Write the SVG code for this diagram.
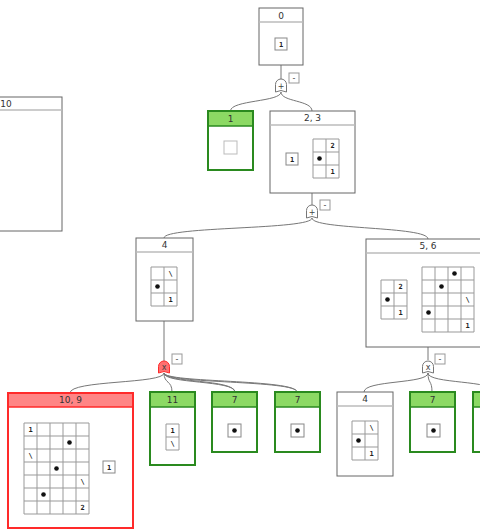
<svg xmlns="http://www.w3.org/2000/svg" width="480" height="529" viewBox="0 0 480 529">
  <style>
    .box { fill: #fff; stroke: #666; stroke-width: 1; }
    .box-ok { fill: none; stroke: #2a8a1f; stroke-width: 2; }
    .box-bad { fill: none; stroke: #ff2a2a; stroke-width: 2; }
    .hd-ok { fill: #8cd964; }
    .hd-bad { fill: #ff8585; }
    .sep { stroke: #bbb; stroke-width: 1.5; }
    .sep-ok { stroke: #2a8a1f; stroke-width: 1.5; }
    .sep-bad { stroke: #ff2a2a; stroke-width: 1.5; }
    .title { font-family: "DejaVu Sans", sans-serif; font-size: 9px; fill: #333; text-anchor: middle; }
    .cell { fill: #fff; stroke: #999; stroke-width: 1; }
    .tag { fill: #fff; stroke: #888; stroke-width: 1; }
    .num { font-family: "DejaVu Sans Mono", monospace; font-size: 7px; font-weight: bold; fill: #222; text-anchor: middle; }
    .dot { fill: #111; }
    .link { fill: none; stroke: #777; stroke-width: 1; }
    .gate { fill: #fff; stroke: #777; stroke-width: 1; }
    .gate-bad { fill: #ff6f6f; stroke: #ff2a2a; stroke-width: 1; }
    .gsym { font-family: "DejaVu Sans", sans-serif; font-size: 8px; fill: #444; text-anchor: middle; }
    .minus { fill: #fff; stroke: #999; stroke-width: 1; }
    .msym { font-family: "DejaVu Sans", sans-serif; font-size: 8px; fill: #444; text-anchor: middle; }
  </style>

  <!-- connectors -->
  <g id="connectors">
    <path class="link" d="M281,65 L281,79"/>
    <path class="link" d="M281,92 C281,102 230.5,100 230.5,111"/>
    <path class="link" d="M281,92 C281,102 312,100 312,111"/>
    <path class="link" d="M312,193 L312,205"/>
    <path class="link" d="M312,218 C312,230 164,226 164,238"/>
    <path class="link" d="M312,218 C312,230 428,226 428,239"/>
    <path class="link" d="M164,321 L164,361"/>
    <path class="link" d="M164,373 C164,384 70,380 70,393"/>
    <path class="link" d="M164,373 C164,384 172,380 172,392"/>
    <path class="link" d="M164,373 C164,384 235,380 235,392"/>
    <path class="link" d="M164,373 C165,383 234,379 235,392"/>
    <path class="link" d="M164,373 C164,384 297,380 297,392"/>
    <path class="link" d="M164,373 C165,383 296,379 297,392"/>
    <path class="link" d="M428,347 L428,360"/>
    <path class="link" d="M428,373 C428,384 364,380 364,392"/>
    <path class="link" d="M428,373 C428,384 432,380 432,392"/>
    <path class="link" d="M428,373 C428,384 495,380 495,392"/>
  </g>

  <!-- gates -->
  <g id="gate-a">
    <path class="gate" d="M275.5,92 L275.5,84.5 A5.5,5.5 0 0 1 286.5,84.5 L286.5,92 Q281,89 275.5,92 Z"/>
    <text class="gsym" x="281" y="88.5">+</text>
    <rect class="minus" x="289" y="73" width="10" height="10"/>
    <text class="msym" x="294" y="80.5">-</text>
  </g>
  <g id="gate-b">
    <path class="gate" d="M306.5,218 L306.5,210.5 A5.5,5.5 0 0 1 317.5,210.5 L317.5,218 Q312,215 306.5,218 Z"/>
    <text class="gsym" x="312" y="214.5">+</text>
    <rect class="minus" x="320" y="200" width="10" height="10"/>
    <text class="msym" x="325" y="207.5">-</text>
  </g>
  <g id="gate-c">
    <path class="gate-bad" d="M158.5,373 L158.5,366.5 A5.5,5.5 0 0 1 169.5,366.5 L169.5,373 Q164,370 158.5,373 Z"/>
    <text class="gsym" x="164" y="370" font-size="7">x</text>
    <rect class="minus" x="172" y="354" width="10" height="10"/>
    <text class="msym" x="177" y="361.5">-</text>
  </g>
  <g id="gate-d">
    <path class="gate" d="M422.5,373 L422.5,366.5 A5.5,5.5 0 0 1 433.5,366.5 L433.5,373 Q428,370 422.5,373 Z"/>
    <text class="gsym" x="428" y="370" font-size="7">x</text>
    <rect class="minus" x="435" y="354" width="10" height="10"/>
    <text class="msym" x="440" y="361.5">-</text>
  </g>

  <!-- node 0 -->
  <g id="node-0">
    <rect class="box" x="259" y="8" width="44" height="57"/>
    <line class="sep" x1="259" y1="22" x2="303" y2="22"/>
    <text class="title" x="281" y="18.5">0</text>
    <rect class="tag" x="275" y="38" width="12" height="12"/>
    <text class="num" x="281" y="46.5">1</text>
  </g>

  <!-- node 10 -->
  <g id="node-10">
    <rect class="box" x="-54" y="97" width="116" height="134"/>
    <line class="sep" x1="-54" y1="110" x2="62" y2="110"/>
    <text class="title" x="6" y="106.5">10</text>
  </g>

  <!-- node 1 -->
  <g id="node-1">
    <rect class="hd-ok" x="208" y="111" width="45" height="15"/>
    <rect class="box-ok" x="208" y="111" width="45" height="59"/>
    <line class="sep-ok" x1="208" y1="126" x2="253" y2="126"/>
    <text class="title" x="230.5" y="121.5">1</text>
    <rect x="224" y="141" width="13" height="13" fill="#fff" stroke="#bbb"/>
  </g>

  <!-- node 2, 3 -->
  <g id="node-2-3">
    <rect class="box" x="270" y="111" width="85" height="82"/>
    <line class="sep" x1="270" y1="125" x2="355" y2="125"/>
    <text class="title" x="312.5" y="121">2, 3</text>
    <rect class="tag" x="286" y="153" width="12" height="12"/>
    <text class="num" x="292" y="161.5">1</text>
    <g transform="translate(313,139)">
      <path fill="#fff" stroke="#999" d="M0,0 H26 V39 H0 Z M13,0 V39 M0,13 H26 M0,26 H26"/>
      <text class="num" x="19.5" y="9">2</text>
      <circle class="dot" cx="6.5" cy="19.5" r="2.3"/>
      <text class="num" x="19.5" y="35">1</text>
    </g>
  </g>

  <!-- node 4 -->
  <g id="node-4">
    <rect class="box" x="136" y="238" width="57" height="83"/>
    <line class="sep" x1="136" y1="252" x2="193" y2="252"/>
    <text class="title" x="164.5" y="248">4</text>
    <g transform="translate(151,267)">
      <path fill="#fff" stroke="#999" d="M0,0 H26 V39 H0 Z M13,0 V39 M0,13 H26 M0,26 H26"/>
      <text class="num" x="19.5" y="9">\</text>
      <circle class="dot" cx="6.5" cy="19.5" r="2.3"/>
      <text class="num" x="19.5" y="35">1</text>
    </g>
  </g>

  <!-- node 5, 6 -->
  <g id="node-5-6">
    <rect class="box" x="366" y="239" width="124" height="108"/>
    <line class="sep" x1="366" y1="253" x2="490" y2="253"/>
    <text class="title" x="428" y="249">5, 6</text>
    <g transform="translate(381,280)">
      <path fill="#fff" stroke="#999" d="M0,0 H26 V39 H0 Z M13,0 V39 M0,13 H26 M0,26 H26"/>
      <text class="num" x="19.5" y="9">2</text>
      <circle class="dot" cx="6.5" cy="19.5" r="2.3"/>
      <text class="num" x="19.5" y="35">1</text>
    </g>
    <g transform="translate(422,267)">
      <path fill="#fff" stroke="#999" d="M0,0 H52 V65 H0 Z M13,0 V65 M26,0 V65 M39,0 V65 M0,13 H52 M0,26 H52 M0,39 H52 M0,52 H52"/>
      <circle class="dot" cx="32.5" cy="6.5" r="2.3"/>
      <circle class="dot" cx="19.5" cy="19.5" r="2.3"/>
      <text class="num" x="45.5" y="35">\</text>
      <circle class="dot" cx="6.5" cy="45.5" r="2.3"/>
      <text class="num" x="45.5" y="61">1</text>
    </g>
  </g>

  <!-- node 10, 9 -->
  <g id="node-10-9">
    <rect class="hd-bad" x="8" y="393" width="125" height="14"/>
    <rect class="box-bad" x="8" y="393" width="125" height="135"/>
    <line class="sep-bad" x1="8" y1="407" x2="133" y2="407"/>
    <text class="title" x="70.5" y="403">10, 9</text>
    <g transform="translate(24,423)">
      <path fill="#fff" stroke="#999" d="M0,0 H65 V91 H0 Z M13,0 V91 M26,0 V91 M39,0 V91 M52,0 V91 M0,13 H65 M0,26 H65 M0,39 H65 M0,52 H65 M0,65 H65 M0,78 H65"/>
      <text class="num" x="6.5" y="9">1</text>
      <circle class="dot" cx="45.5" cy="19.5" r="2.3"/>
      <text class="num" x="6.5" y="35">\</text>
      <circle class="dot" cx="32.5" cy="45.5" r="2.3"/>
      <text class="num" x="58.5" y="61">\</text>
      <circle class="dot" cx="19.5" cy="71.5" r="2.3"/>
      <text class="num" x="58.5" y="87">2</text>
    </g>
    <rect class="tag" x="103" y="461" width="12" height="12"/>
    <text class="num" x="109" y="469.5">1</text>
  </g>

  <!-- node 11 -->
  <g id="node-11">
    <rect class="hd-ok" x="150" y="392" width="45" height="15"/>
    <rect class="box-ok" x="150" y="392" width="45" height="73"/>
    <line class="sep-ok" x1="150" y1="407" x2="195" y2="407"/>
    <text class="title" x="172.5" y="402.5">11</text>
    <path fill="#fff" stroke="#999" d="M166,424 H179 V450 H166 Z M166,437 H179"/>
    <text class="num" x="172.5" y="433">1</text>
    <text class="num" x="172.5" y="446">\</text>
  </g>

  <!-- node 7 (left) -->
  <g id="node-7a">
    <rect class="hd-ok" x="212" y="392" width="45" height="15"/>
    <rect class="box-ok" x="212" y="392" width="45" height="60"/>
    <line class="sep-ok" x1="212" y1="407" x2="257" y2="407"/>
    <text class="title" x="234.5" y="402.5">7</text>
    <rect class="tag" x="228" y="424" width="13" height="13"/>
    <circle class="dot" cx="234.5" cy="430.5" r="2.3"/>
  </g>

  <!-- node 7 (middle) -->
  <g id="node-7b">
    <rect class="hd-ok" x="275" y="392" width="45" height="15"/>
    <rect class="box-ok" x="275" y="392" width="45" height="60"/>
    <line class="sep-ok" x1="275" y1="407" x2="320" y2="407"/>
    <text class="title" x="297.5" y="402.5">7</text>
    <rect class="tag" x="291" y="424" width="13" height="13"/>
    <circle class="dot" cx="297.5" cy="430.5" r="2.3"/>
  </g>

  <!-- node 4 (second) -->
  <g id="node-4b">
    <rect class="box" x="337" y="392" width="56" height="84"/>
    <line class="sep" x1="337" y1="406" x2="393" y2="406"/>
    <text class="title" x="365" y="402">4</text>
    <g transform="translate(352,421)">
      <path fill="#fff" stroke="#999" d="M0,0 H26 V39 H0 Z M13,0 V39 M0,13 H26 M0,26 H26"/>
      <text class="num" x="19.5" y="9">\</text>
      <circle class="dot" cx="6.5" cy="19.5" r="2.3"/>
      <text class="num" x="19.5" y="35">1</text>
    </g>
  </g>

  <!-- node 7 (right) -->
  <g id="node-7c">
    <rect class="hd-ok" x="410" y="392" width="45" height="15"/>
    <rect class="box-ok" x="410" y="392" width="45" height="60"/>
    <line class="sep-ok" x1="410" y1="407" x2="455" y2="407"/>
    <text class="title" x="432.5" y="402.5">7</text>
    <rect class="tag" x="427" y="424" width="13" height="13"/>
    <circle class="dot" cx="433.5" cy="430.5" r="2.3"/>
  </g>

  <!-- node at the right edge -->
  <g id="node-edge">
    <rect class="hd-ok" x="473" y="392" width="45" height="15"/>
    <rect class="box-ok" x="473" y="392" width="45" height="60"/>
    <line class="sep-ok" x1="473" y1="407" x2="518" y2="407"/>
  </g>
</svg>
